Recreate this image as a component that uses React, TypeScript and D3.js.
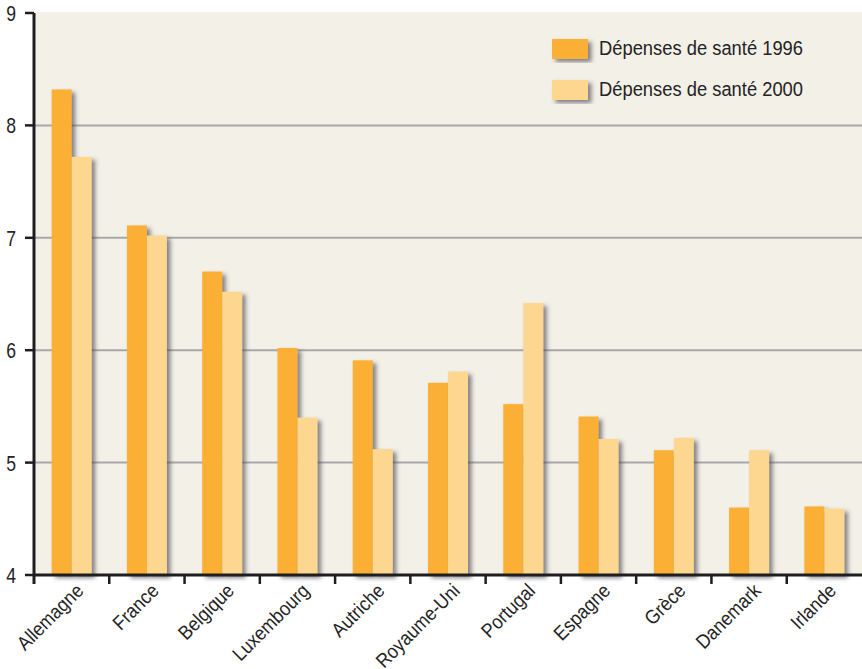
import React from "react";
import * as d3 from "d3";

const categories = ["Allemagne", "France", "Belgique", "Luxembourg", "Autriche", "Royaume-Uni", "Portugal", "Espagne", "Grèce", "Danemark", "Irlande"];
const values1996 = [8.32, 7.11, 6.7, 6.02, 5.91, 5.71, 5.52, 5.41, 5.11, 4.6, 4.61];
const values2000 = [7.72, 7.02, 6.52, 5.4, 5.12, 5.81, 6.42, 5.21, 5.22, 5.11, 4.59];
const seriesNames = ["Dépenses de santé 1996", "Dépenses de santé 2000"];
const yTicks = [4, 5, 6, 7, 8, 9];
const gridValues = [5, 6, 7, 8];

const W = 862;
const H = 669;
const left = 34;
const right = 862;
const top = 13;
const bottom = 575;
const colors = ["#FBB034", "#FDD68F"];
const FONT = "'Liberation Sans', Arial, sans-serif";
const TEXT = "#242424";

export default function App() {
  const x = d3.scaleBand<string>().domain(categories).range([left, right]).paddingInner(0).paddingOuter(0);
  const y = d3.scaleLinear().domain([4, 9]).range([bottom, top]);
  const groupW = 40;
  const x1 = d3.scaleBand<string>().domain(seriesNames).range([0, groupW]).padding(0);
  const series = [values1996, values2000];
  const bw = x.bandwidth();

  return (
    <div style={{ position: "absolute", left: 0, top: 0 }}>
      <svg width={W} height={H} style={{ display: "block" }}>
        <defs>
          <filter id="sh" x="-30%" y="-10%" width="170%" height="130%">
            <feDropShadow dx="3.5" dy="3" stdDeviation="2" floodColor="#44444f" floodOpacity="0.65" />
          </filter>
        </defs>
        <rect x={0} y={0} width={W} height={H} fill="#ffffff" />
        <rect x={left} y={top - 1} width={right - left} height={bottom - top + 1} fill="#F3F0E8" />
        {gridValues.map((v) => (
          <line key={v} x1={left} x2={right} y1={y(v)} y2={y(v)} stroke="#A9A8A8" strokeWidth={2} />
        ))}
        {categories.map((c, i) => {
          const gx = (x(c) as number) + (bw - groupW) / 2;
          return (
            <g key={c}>
              {series.map((vals, s) => (
                <rect
                  key={s}
                  x={gx + (x1(seriesNames[s]) as number)}
                  y={y(vals[i])}
                  width={x1.bandwidth()}
                  height={y(4) - y(vals[i])}
                  fill={colors[s]}
                  filter="url(#sh)"
                />
              ))}
            </g>
          );
        })}
        {/* x axis */}
        <line x1={left} x2={right} y1={bottom} y2={bottom} stroke="#1e1e1e" strokeWidth={3} />
        {categories.slice(1).map((c) => (
          <line key={c} x1={x(c) as number} x2={x(c) as number} y1={bottom} y2={bottom + 9} stroke="#1e1e1e" strokeWidth={2.5} />
        ))}
        {/* y axis */}
        <line x1={left} x2={left} y1={top} y2={bottom + 9} stroke="#1e1e1e" strokeWidth={3} />
        {yTicks.map((v) => (
          <g key={v}>
            <line x1={left - 9} x2={left} y1={y(v)} y2={y(v)} stroke="#1e1e1e" strokeWidth={2.5} />
            <g transform={`translate(16, ${y(v)}) scale(0.8, 1)`}>
              <text x={0} y={0} dy="0.36em" textAnchor="end" fontFamily={FONT} fontSize={22} fill={TEXT}>
                {v}
              </text>
            </g>
          </g>
        ))}
        {categories.map((c) => {
          const cx = (x(c) as number) + bw / 2 + 13;
          const cy = 592;
          return (
            <g key={c} transform={`translate(${cx}, ${cy}) rotate(-45) scale(0.9, 1)`}>
              <text x={0} y={0} textAnchor="end" fontFamily={FONT} fontSize={19.8} fill={TEXT}>
                {c}
              </text>
            </g>
          );
        })}
        {/* legend */}
        {seriesNames.map((n, s) => (
          <g key={n} transform={`translate(552, ${39 + s * 41})`}>
            <rect x={0} y={0} width={36} height={20} fill={colors[s]} filter="url(#sh)" />
            <g transform="translate(47, 16) scale(0.9, 1)">
              <text x={0} y={0} fontFamily={FONT} fontSize={20.4} fill={TEXT}>
                {n}
              </text>
            </g>
          </g>
        ))}
      </svg>
    </div>
  );
}
